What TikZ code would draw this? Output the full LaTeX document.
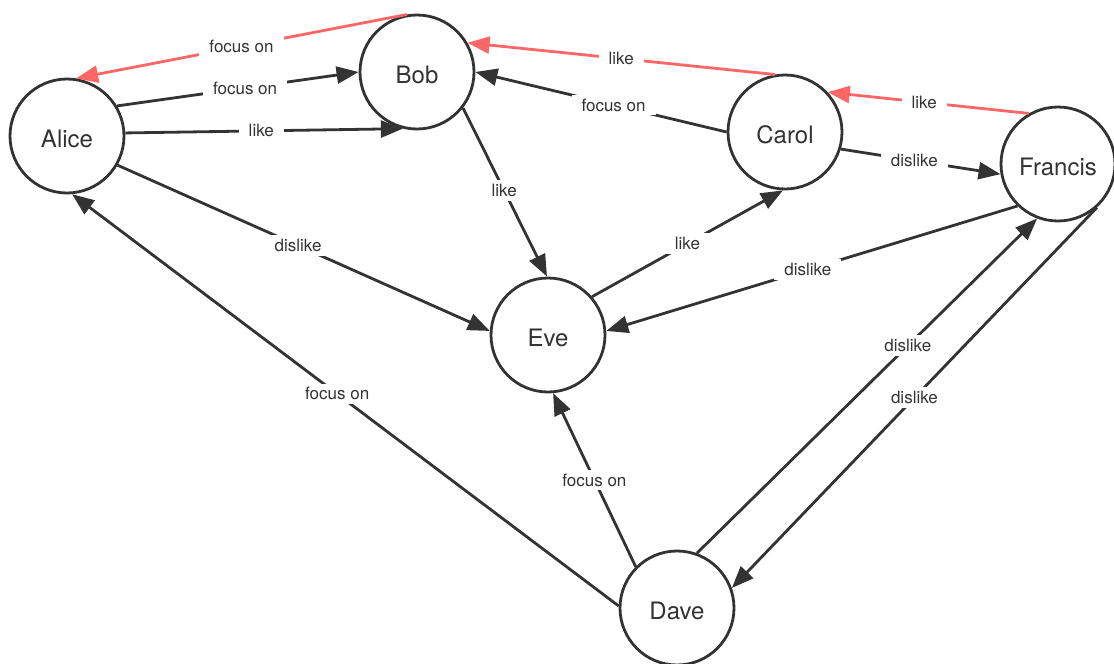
\documentclass[tikz,border=0pt]{standalone}
\usepackage{fontspec}
\setmainfont{TeX Gyre Heros}
\usetikzlibrary{arrows.meta}
\definecolor{ink}{HTML}{333333}
\definecolor{hl}{HTML}{FF6666}
\begin{document}
\begin{tikzpicture}[x=1pt,y=-1pt,
  person/.style={circle,draw=ink,line width=2.8pt,minimum size=114pt,inner sep=0pt,
    text height=23pt,text depth=0pt,
    font=\fontsize{24}{28}\selectfont,text=ink,fill=white},
  rel/.style={draw=ink,line width=2.8pt,-{Triangle[length=22pt,width=17pt]}},
  hot/.style={rel,draw=hl},
  lbl/.style={fill=white,inner xsep=10pt,inner ysep=4pt,
    font=\fontsize{17}{20}\selectfont,text=ink}]
\useasboundingbox (0,0) rectangle (1114,664);

\node[person] (alice)   at (67,136)  {Alice};
\node[person] (bob)     at (417,72)  {Bob};
\node[person] (carol)   at (785,132) {Carol};
\node[person] (francis) at (1058,164){Francis};
\node[person] (eve)     at (548,335) {Eve};
\node[person] (dave)    at (677,608) {Dave};

% red edges
\draw[hot] (bob.100) -- node[lbl,pos=.5]{focus on} (alice.81);
\draw[hot] (carol.100) -- node[lbl,pos=.5]{like} (bob.30);
\draw[hot] (francis.120) -- node[lbl,pos=.52]{like} (carol.43);

% dark edges
\draw[rel] (alice.31) -- node[lbl,pos=.53]{focus on} (bob.180);
\draw[rel] (alice.3) -- node[lbl,pos=.49]{like} (bob.256);
\draw[rel] (alice.-30) -- node[lbl,pos=.485]{dislike} (eve.176);
\draw[rel] (dave.178) -- node[lbl,pos=.515]{focus on} (alice.275);
\draw[rel] (bob.-38) -- node[lbl,pos=.49]{like} (eve.91);
\draw[rel] (carol.180) -- node[lbl,pos=.45]{focus on} (bob.0);
\draw[rel] (carol.-17) -- node[lbl,pos=.46]{dislike} (francis.190);
\draw[rel] (eve.41) -- node[lbl,pos=.5]{like} (carol.268);
\draw[rel] (francis.226) -- node[lbl,pos=.51]{dislike} (eve.4);
\draw[rel] (dave.70) -- node[lbl,pos=.62]{dislike} (francis.249);
\draw[rel] (francis.-48) -- node[lbl,pos=.5]{dislike} (dave.20);
\draw[rel] (dave.135) -- node[lbl,pos=.5]{focus on} (eve.275);
\end{tikzpicture}
\end{document}
